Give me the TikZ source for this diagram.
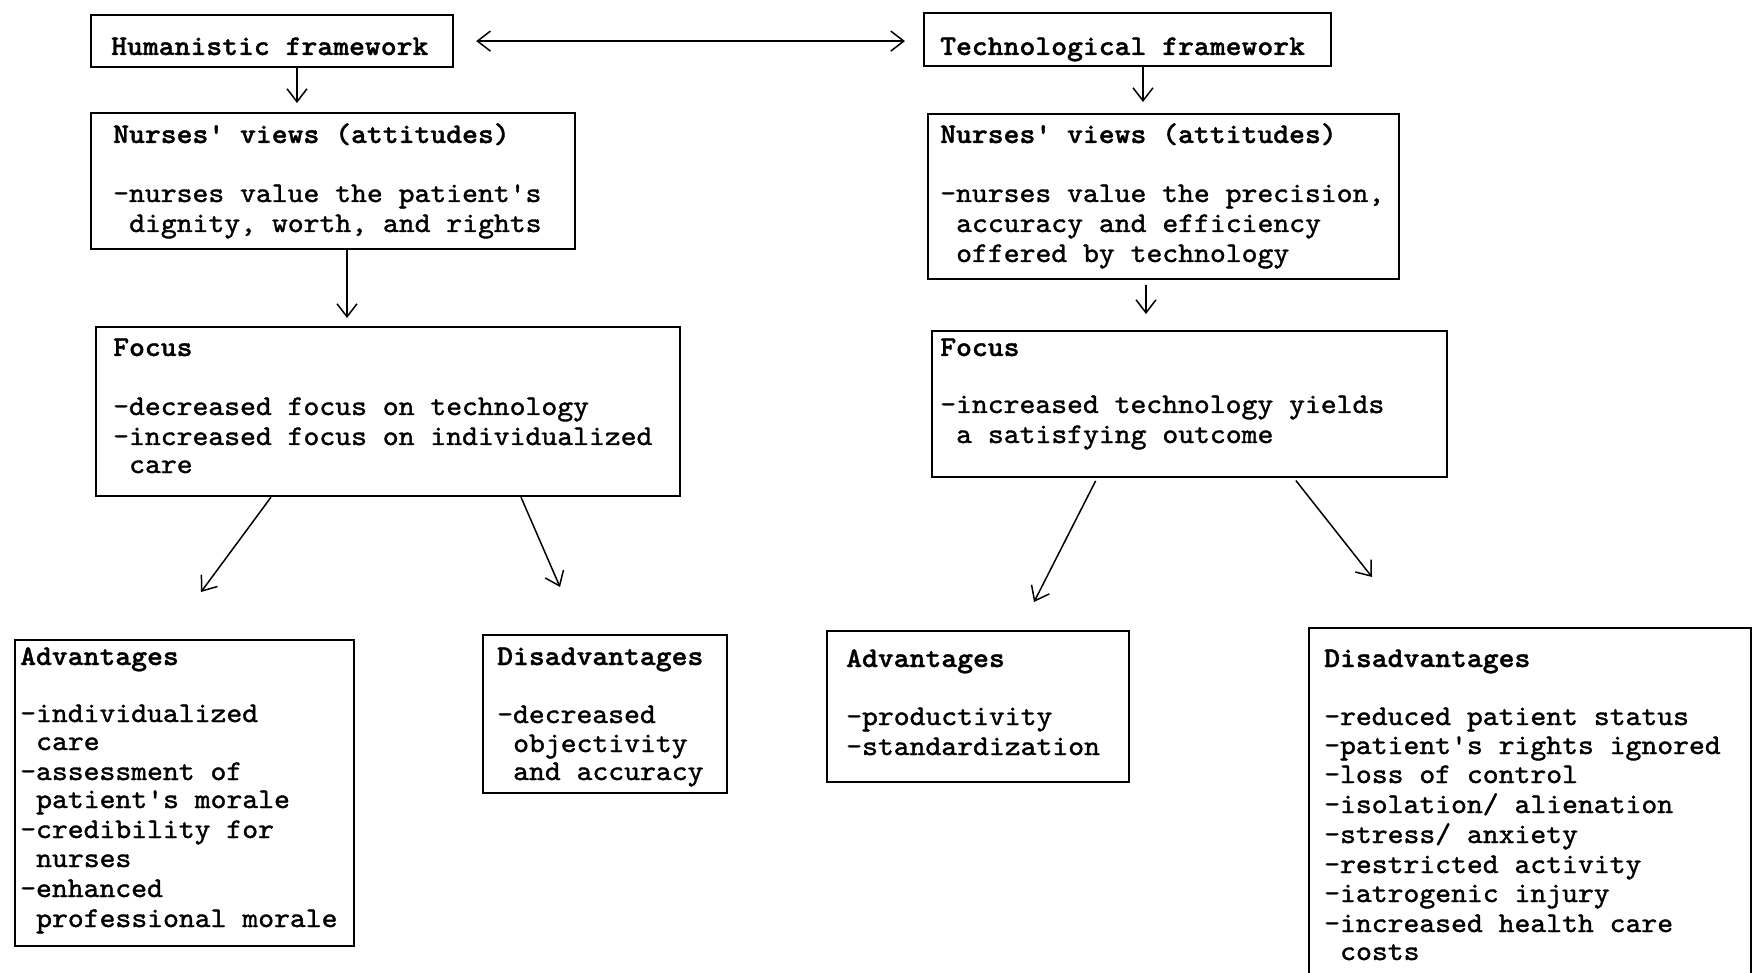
\documentclass[tikz,border=0pt]{standalone}
\usepackage{fontspec}
\usetikzlibrary{arrows.meta}
\newfontfamily\twr{lmmono10-regular.otf}[FakeStretch=1.06,FakeBold=1.3]
\newfontfamily\twb{lmmonolt10-bold.otf}[FakeStretch=1.06,FakeBold=1.2]
\tikzset{
  box/.style={draw, line width=2.2pt, inner sep=0pt, anchor=north west},
  head/.style={font=\twb\fontsize{28.5}{30}\selectfont, anchor=base west, inner sep=0pt},
  txt/.style={font=\twr\fontsize{28.5}{30}\selectfont, anchor=base west, inner sep=0pt},
  arr/.style={line width=1.5pt, -{Straight Barb[length=13pt,width=20pt,line width=1.5pt]}},
  dbl/.style={line width=1.5pt, {Straight Barb[length=13pt,width=20pt,line width=1.5pt]}-{Straight Barb[length=13pt,width=20pt,line width=1.5pt]}}
}
\begin{document}
\begin{tikzpicture}[x=1pt,y=-1pt]
\useasboundingbox (0,0) rectangle (1754,973);
\fill[white] (0,0) rectangle (1754,973);
\clip (0,0) rectangle (1754,973);

% boxes
\node[box, minimum width=362pt, minimum height=52pt] (hum) at (90,14) {};
\node[box, minimum width=407pt, minimum height=53pt] (tech) at (923,12) {};
\node[box, minimum width=484pt, minimum height=136pt] (nvL) at (90,112) {};
\node[box, minimum width=471pt, minimum height=165pt] (nvR) at (927,113) {};
\node[box, minimum width=584pt, minimum height=169pt] (focL) at (95,326) {};
\node[box, minimum width=515pt, minimum height=146pt] (focR) at (931,330) {};
\node[box, minimum width=339pt, minimum height=306pt] (advL) at (14,639) {};
\node[box, minimum width=244pt, minimum height=158pt] (disL) at (482,634) {};
\node[box, minimum width=302pt, minimum height=151pt] (advR) at (826,630) {};
\node[box, minimum width=442pt, minimum height=420pt] (disR) at (1308,627) {};

% texts
\node[head] (humT) at (111,55) {Humanistic framework};
\node[head] (techT) at (940,55) {Technological framework};

\node[head] (nvLh) at (113,143) {Nurses' views (attitudes)};
\node[txt] (nvL1) at (113,202) {-nurses value the patient's};
\node[txt] (nvL2) at (129,232) {dignity, worth, and rights};

\node[head] (nvRh) at (940,143) {Nurses' views (attitudes)};
\node[txt] (nvR1) at (940,202) {-nurses value the precision,};
\node[txt] (nvR2) at (956,232) {accuracy and efficiency};
\node[txt] (nvR3) at (956,262) {offered by technology};

\node[head] (focLh) at (113,356) {Focus};
\node[txt] (focL1) at (113,415) {-decreased focus on technology};
\node[txt] (focL2) at (113,445) {-increased focus on individualized};
\node[txt] (focL3) at (129,473) {care};

\node[head] (focRh) at (940,356) {Focus};
\node[txt] (focR1) at (940,413) {-increased technology yields};
\node[txt] (focR2) at (956,443) {a satisfying outcome};

\node[head] (advLh) at (20,665) {Advantages};
\node[txt] (advL1) at (20,722) {-individualized};
\node[txt] (advL2) at (36,750) {care};
\node[txt] (advL3) at (20,780) {-assessment of};
\node[txt] (advL4) at (36,808) {patient's morale};
\node[txt] (advL5) at (20,838) {-credibility for};
\node[txt] (advL6) at (36,867) {nurses};
\node[txt] (advL7) at (20,897) {-enhanced};
\node[txt] (advL8) at (36,927) {professional morale};

\node[head] (disLh) at (497,665) {Disadvantages};
\node[txt] (disL1) at (497,723) {-decreased};
\node[txt] (disL2) at (513,752) {objectivity};
\node[txt] (disL3) at (513,780) {and accuracy};

\node[head] (advRh) at (846,667) {Advantages};
\node[txt] (advR1) at (846,725) {-productivity};
\node[txt] (advR2) at (846,755) {-standardization};

\node[head] (disRh) at (1324,667) {Disadvantages};
\node[txt] (disR1) at (1324,725) {-reduced patient status};
\node[txt] (disR2) at (1324,754) {-patient's rights ignored};
\node[txt] (disR3) at (1324,783) {-loss of control};
\node[txt] (disR4) at (1324,813) {-isolation/ alienation};
\node[txt] (disR5) at (1324,843) {-stress/ anxiety};
\node[txt] (disR6) at (1324,873) {-restricted activity};
\node[txt] (disR7) at (1324,902) {-iatrogenic injury};
\node[txt] (disR8) at (1324,932) {-increased health care};
\node[txt] (disR9) at (1340,960) {costs};

% connectors
\draw[dbl, shorten <=22pt, shorten >=18pt] (hum.east) -- (hum.east -| tech.west);

\coordinate (t1) at (297,103);
\draw[arr] (t1 |- hum.south) -- (t1);
\coordinate (t2) at (347,318);
\draw[arr] (t2 |- nvL.south) -- (t2);
\coordinate (t3) at (1143,102);
\draw[arr] (t3 |- tech.south) -- (t3);
\coordinate (t4) at (1146,314);
\draw[arr, shorten <=5pt] (t4 |- nvR.south) -- (t4);

\coordinate (s5) at (271,0);
\coordinate (t5) at (201,592);
\draw[arr] (s5 |- focL.south) -- (t5);
\coordinate (s6) at (521,0);
\coordinate (t6) at (560,587);
\draw[arr] (s6 |- focL.south) -- (t6);
\coordinate (s7) at (1097,0);
\coordinate (t7) at (1034,602);
\draw[arr, shorten <=3pt] (s7 |- focR.south) -- (t7);
\coordinate (s8) at (1294,0);
\coordinate (t8) at (1372,577);
\draw[arr, shorten <=3pt] (s8 |- focR.south) -- (t8);
\end{tikzpicture}
\end{document}
